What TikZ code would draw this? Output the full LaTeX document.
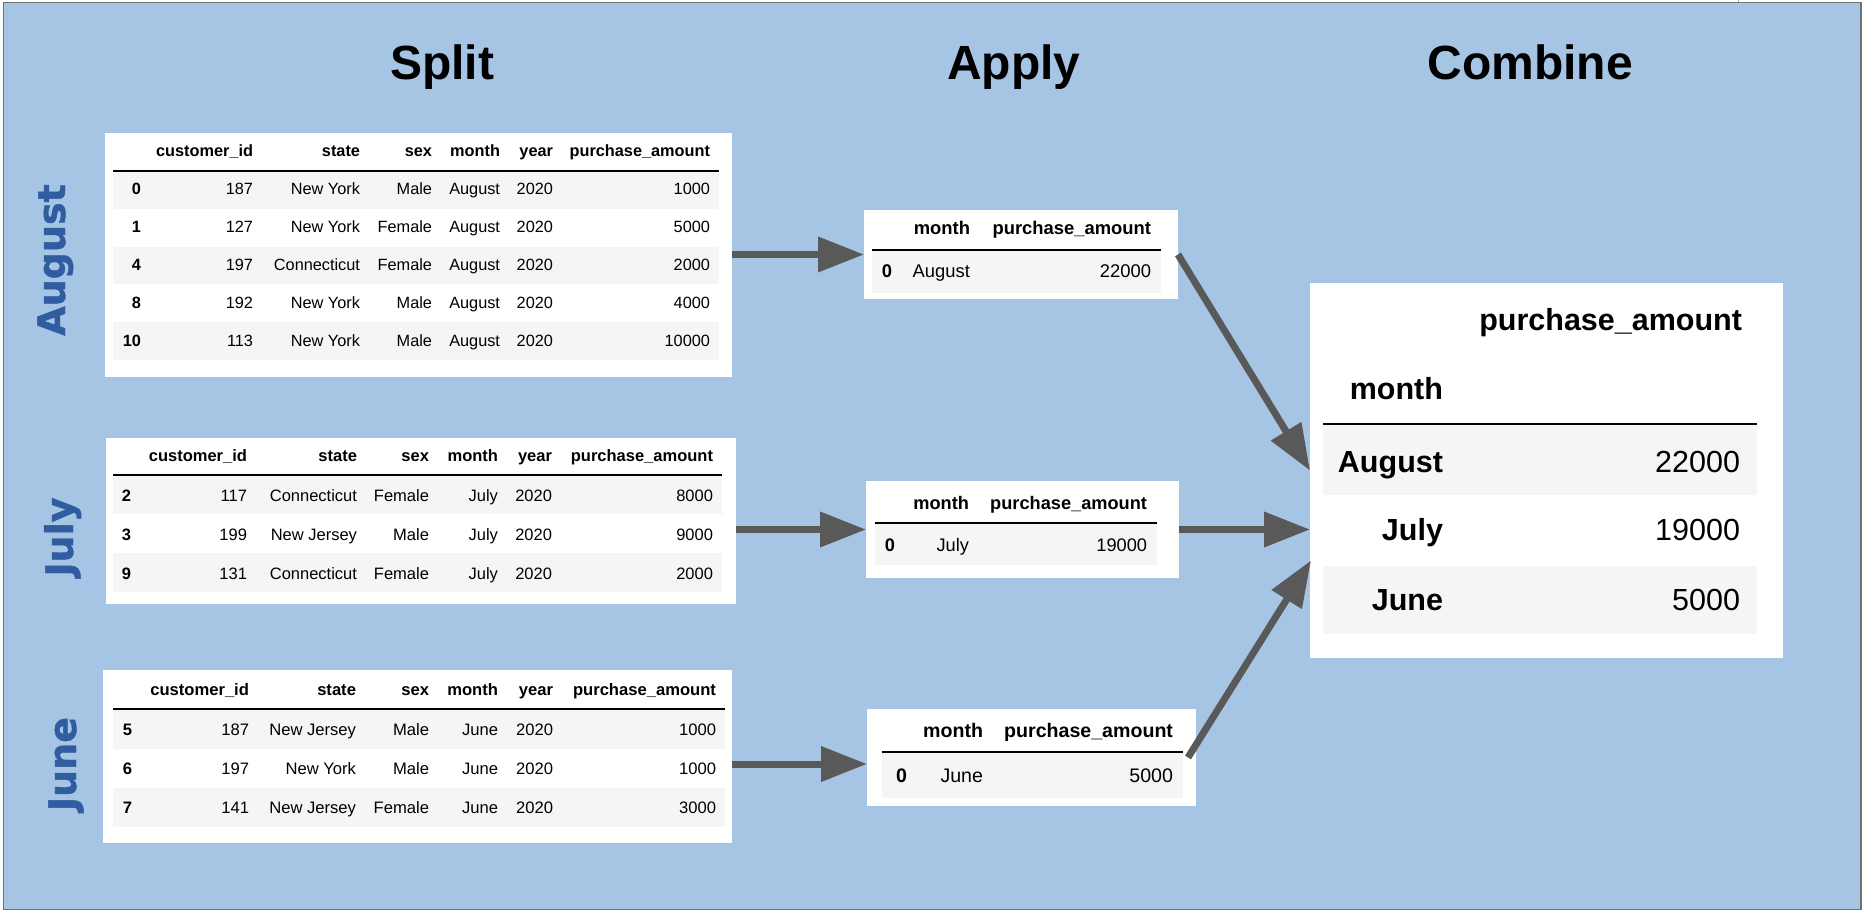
\documentclass[tikz,border=0pt]{standalone}
\usepackage{fontspec}
\setmainfont{Liberation Sans}
\newfontfamily\vfont{DejaVu Sans}[BoldFeatures={FakeBold=1.2}]
\usetikzlibrary{arrows.meta,calc}
\definecolor{bgblue}{HTML}{A6C4E4}
\definecolor{lblue}{HTML}{2F5D9F}
\definecolor{arrgray}{HTML}{595959}
\definecolor{stripe}{HTML}{F5F5F5}
\definecolor{bordergray}{HTML}{727272}
\definecolor{lgreen}{HTML}{A3CC94}
\tikzset{
  tabbox/.style={fill=white, draw=none, inner sep=0pt, outer sep=0pt},
  hd/.style={inner sep=0pt, outer sep=0pt, anchor=base east, font=\fontsize{#1}{#1}\selectfont\bfseries},
  bd/.style={inner sep=0pt, outer sep=0pt, anchor=base east, font=\fontsize{#1}{#1}\selectfont},
  ttl/.style={inner sep=0pt, anchor=base, font=\fontsize{48}{48}\selectfont\bfseries},
  vlab/.style={inner sep=0pt, anchor=base, rotate=90, text=lblue, font=\vfont\fontsize{38}{38}\selectfont\bfseries},
  arr/.style={draw=arrgray, line width=7pt, -{Triangle[length=46pt,width=34pt]}},
  hrule/.style={draw=black, line width=1.5pt},
}
\newcommand\splitcols[8]{\def\fsz{#1}\def\cIx{#2}\def\cId{#3}\def\cSt{#4}\def\cSx{#5}\def\cMo{#6}\def\cYr{#7}\def\cAm{#8}}
\newcommand\splithead[2]{%
  \node[hd=\fsz] (#1-h1) at (\cId,#2) {customer\_id};
  \node[hd=\fsz] (#1-h2) at (\cSt,#2) {state};
  \node[hd=\fsz] (#1-h3) at (\cSx,#2) {sex};
  \node[hd=\fsz] (#1-h4) at (\cMo,#2) {month};
  \node[hd=\fsz] (#1-h5) at (\cYr,#2) {year};
  \node[hd=\fsz] (#1-h6) at (\cAm,#2) {purchase\_amount};}
\newcommand\splitrows[2]{%
  \foreach \k/\yy/\ix/\id/\st/\sx/\mo/\yr/\am in {#2}{%
    \node[hd=\fsz] (#1-\k-0) at (\cIx,\yy) {\ix};
    \node[bd=\fsz] (#1-\k-1) at (\cId,\yy) {\id};
    \node[bd=\fsz] (#1-\k-2) at (\cSt,\yy) {\st};
    \node[bd=\fsz] (#1-\k-3) at (\cSx,\yy) {\sx};
    \node[bd=\fsz] (#1-\k-4) at (\cMo,\yy) {\mo};
    \node[bd=\fsz] (#1-\k-5) at (\cYr,\yy) {\yr};
    \node[bd=\fsz] (#1-\k-6) at (\cAm,\yy) {\am};}}
\newcommand\applytab[9]{%
  \node[hd=#2] (#1-h1) at (#6,#3) {month};
  \node[hd=#2] (#1-h2) at (#7,#3) {purchase\_amount};
  \node[hd=#2] (#1-r0) at (#5,#4) {0};
  \node[bd=#2] (#1-r1) at (#6,#4) {#8};
  \node[bd=#2] (#1-r2) at (#7,#4) {#9};}

\begin{document}
\begin{tikzpicture}[x=1pt,y=-1pt]
\useasboundingbox (0,0) rectangle (1864,912);
\fill[white] (0,0) rectangle (1864,912);
\draw[bordergray, line width=1.6pt, fill=bgblue] (3.5,2.5) rectangle (1861,909.5);
\draw[gray!60, line width=1pt] (1738,0) -- (1738,2);

% titles
\node[ttl] (tSplit) at (442,80) {Split};
\node[ttl] (tApply) at (1014,80) {Apply};
\node[ttl] (tComb) at (1530,80) {Combine};

% vertical group labels
\node[vlab] (lAug) at (65,260) {August};
\node[vlab] (lJul) at (73,537) {July};
\node[vlab] (lJun) at (76,764) {June};

% table boxes
\node[tabbox, minimum width=627pt, minimum height=244pt] (augS) at (418.5,255) {};
\node[tabbox, minimum width=630pt, minimum height=166pt] (julS) at (421,521) {};
\node[tabbox, minimum width=629pt, minimum height=173pt] (junS) at (417.5,756.5) {};
\node[tabbox, minimum width=314pt, minimum height=89pt] (augA) at (1021,254.5) {};
\node[tabbox, minimum width=313pt, minimum height=97pt] (julA) at (1022.5,529.5) {};
\node[tabbox, minimum width=329pt, minimum height=97pt] (junA) at (1031.5,757.5) {};
\node[tabbox, minimum width=473pt, minimum height=375pt] (comb) at (1546.5,470.5) {};
\draw[lgreen, line width=1.5pt] (103,843.5) -- (732,843.5);

% ---- August split table
\fill[stripe] (113,171) rectangle (719,209);
\fill[stripe] (113,247) rectangle (719,284);
\fill[stripe] (113,322) rectangle (719,360);
\draw[hrule] (113,171) -- (719,171);
\splitcols{16.3}{141}{253}{360}{432}{500}{553}{710}
\splithead{augS}{157}
\splitrows{augS}{1/195/0/187/New York/Male/August/2020/1000,
  2/233/1/127/New York/Female/August/2020/5000,
  3/271/4/197/Connecticut/Female/August/2020/2000,
  4/308/8/192/New York/Male/August/2020/4000,
  5/346/10/113/New York/Male/August/2020/10000}

% ---- July split table
\fill[stripe] (113,475) rectangle (722,514);
\fill[stripe] (113,553) rectangle (722,592);
\draw[hrule] (113,475) -- (722,475);
\splitcols{16.5}{131}{247}{357}{429}{498}{552}{713}
\splithead{julS}{461}
\splitrows{julS}{1/501/2/117/Connecticut/Female/July/2020/8000,
  2/540/3/199/New Jersey/Male/July/2020/9000,
  3/579/9/131/Connecticut/Female/July/2020/2000}

% ---- June split table
\fill[stripe] (113,709) rectangle (725,749);
\fill[stripe] (113,788) rectangle (725,827);
\draw[hrule] (113,709) -- (725,709);
\splitcols{16.6}{132}{249}{356}{429}{498}{553}{716}
\splithead{junS}{695}
\splitrows{junS}{1/735/5/187/New Jersey/Male/June/2020/1000,
  2/774/6/197/New York/Male/June/2020/1000,
  3/813/7/141/New Jersey/Female/June/2020/3000}

% ---- Apply tables
\fill[stripe] (872,250) rectangle (1161,293);
\draw[hrule] (872,250) -- (1161,250);
\applytab{augA}{18.4}{235}{277}{892}{970}{1151}{August}{22000}
\fill[stripe] (875,523) rectangle (1157,565);
\draw[hrule] (875,523) -- (1157,523);
\applytab{julA}{18.2}{509}{551}{895}{969}{1147}{July}{19000}
\fill[stripe] (882,752) rectangle (1183,798);
\draw[hrule] (882,752) -- (1183,752);
\applytab{junA}{19.6}{737}{782}{907}{983}{1173}{June}{5000}

% ---- Combine table
\fill[stripe] (1323,424) rectangle (1757,495);
\fill[stripe] (1323,566) rectangle (1757,634);
\draw[black, line width=2.5pt] (1323,424) -- (1757,424);
\node[hd=30.5] (comb-h1) at (1742,330) {purchase\_amount};
\node[hd=30.5] (comb-h0) at (1443,399) {month};
\foreach \k/\yy/\mo/\am in {1/472/August/22000, 2/540/July/19000, 3/610/June/5000}{%
  \node[hd=30.5] (comb-\k-0) at (1443,\yy) {\mo};
  \node[bd=30.5] (comb-\k-1) at (1740,\yy) {\am};}

% ---- arrows
\draw[arr] (augS.east |- augA.west) -- (augA.west);
\draw[arr] (julS.east |- julA.west) -- (julA.west);
\draw[arr] ($(junS.east)+(0,7.5)$) -- ($(junA.west)+(0,6.5)$);
\draw[arr] (augA.east) -- (comb.west);
\draw[arr] (julA.east) -- (comb.west |- julA.east);
\draw[arr] ($(junA.east)+(-8,0)$) -- ($(comb.west)+(1,90)$);
\end{tikzpicture}
\end{document}
